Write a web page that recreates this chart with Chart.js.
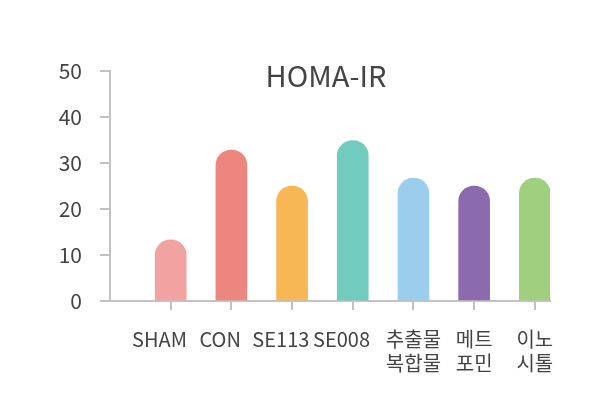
<!DOCTYPE html>
<html>
<head>
<meta charset="utf-8">
<script src="https://cdn.jsdelivr.net/npm/chart.js@4/dist/chart.umd.min.js"></script>
<style>
  body { margin: 0; background: #fff; }
  #wrap { width: 605px; height: 410px; }
</style>
</head>
<body>
<div id="wrap"><canvas id="chart"></canvas></div>
<script>
// chart data
var title = 'HOMA-IR';
var groups = ['SHAM', 'CON', 'SE113', 'SE008', ['추출물', '복합물'], ['메트', '포민'], ['이노', '시톨']];
var homaIr = [13.3, 32.8, 25.0, 34.9, 26.7, 25.0, 26.7];
var barColors = ['#F3A2A2', '#EE8680', '#F8B755', '#72CBBF', '#9ACEEC', '#8C6AAE', '#A0D07E'];
var yTicks = [0, 10, 20, 30, 40, 50];

var font = '"Noto Sans CJK KR", "Noto Sans", sans-serif';
var axisGray = '#c2c2c2';

// title sits inside the plot area, so draw it by hand
var titlePlugin = {
  id: 'innerTitle',
  afterDraw: function(chart) {
    var ctx = chart.ctx;
    var area = chart.chartArea;
    ctx.save();
    ctx.font = '29px ' + font;
    ctx.fillStyle = '#444';
    ctx.textAlign = 'center';
    ctx.textBaseline = 'alphabetic';
    ctx.fillText(title, (area.left + area.right) / 2 - 4, area.top + 16);
    ctx.restore();
  }
};

var chart = new Chart('chart', {
  type: 'bar',
  data: {
    datasets: [{
      label: title,
      data: homaIr.map(function(v, i) { return {x: i + 1, y: v}; }),
      backgroundColor: barColors,
      barThickness: 31,
      borderRadius: {topLeft: 16, topRight: 16},
      borderSkipped: 'bottom'
    }]
  },
  options: {
    responsive: true,
    maintainAspectRatio: false,
    animation: false,
    layout: { padding: { top: 71, right: 55, left: 0, bottom: 0 } },
    plugins: { legend: { display: false }, tooltip: { enabled: false } },
    scales: {
      x: {
        type: 'linear',
        min: 0,
        max: 7.25,
        offset: false,
        z: 1,
        afterBuildTicks: function(scale) {
          scale.ticks = groups.map(function(g, i) { return {value: i + 1}; });
        },
        afterFit: function(scale) { scale.height = 109; },
        border: { color: axisGray, width: 2 },
        grid: { offset: false, drawOnChartArea: false, tickLength: 9, color: axisGray, lineWidth: 2 },
        ticks: {
          padding: 17,
          color: '#444',
          font: { family: font, size: 20 },
          maxRotation: 0,
          autoSkip: false,
          callback: function(v) {
            var g = groups[v - 1];
            // latin labels sit a little left of their tick in the original
            return typeof g === 'string' ? g + '     ' : g;
          }
        }
      },
      y: {
        min: 0,
        max: 50,
        z: 1,
        afterBuildTicks: function(scale) {
          scale.ticks = yTicks.map(function(v) { return {value: v}; });
        },
        afterFit: function(scale) { scale.width = 110; },
        border: { color: axisGray, width: 2 },
        grid: { drawOnChartArea: false, tickLength: 10, color: axisGray, lineWidth: 2 },
        ticks: {
          padding: 18,
          color: '#444',
          font: { family: font, size: 21 }
        }
      }
    }
  },
  plugins: [titlePlugin]
});
</script>
</body>
</html>
